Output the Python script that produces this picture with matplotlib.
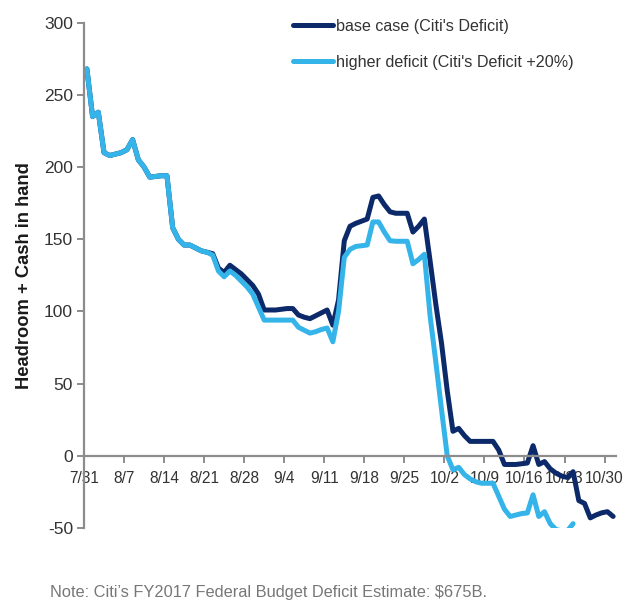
import numpy as np
import pandas as pd
import matplotlib
matplotlib.use("Agg")
import matplotlib.pyplot as plt

plt.rcParams['font.family'] = ['Liberation Sans', 'DejaVu Sans']
plt.rcParams['axes.unicode_minus'] = False

# daily values from 7/31 onward (one per calendar day)
dates = pd.date_range("2017-07-31", periods=93, freq="D")

base_case = [268, 235, 238, 210, 208, 209, 210, 212, 219, 205,
             200, 193, 193.5, 194, 194, 158, 150, 146, 146, 144,
             142, 141, 140, 130, 127, 132, 129, 126, 122, 118,
             112, 101, 101, 101, 101.5, 102, 102, 97.5, 96, 95,
             97, 99, 101, 90.5, 108, 149, 159, 161, 162.5, 164,
             179, 180, 174, 169, 168, 168, 168, 155, 159, 164,
             135, 105, 78, 45, 17, 19, 14, 10, 10, 10,
             10, 10, 4, -6, -6, -6, -5.5, -5, 7, -6,
             -4, -9, -12, -14, -15, -11, -31, -33, -43, -41,
             -39.5, -38.7, -42]

higher_deficit = [268, 235, 238, 210, 208, 209, 210, 212, 219, 205,
                  200, 193, 193.5, 194, 194, 158, 150, 146, 146, 144,
                  142, 141, 139, 128, 124, 128, 125, 121, 117, 112,
                  103, 94, 94, 94, 94, 94, 94, 89, 87, 85,
                  86, 87.5, 88.5, 79, 100, 137.5, 143, 145, 145.5, 146,
                  162, 162, 155, 149, 148.6, 148.6, 148.6, 133, 136, 139.6,
                  97, 65, 32, 0, -9.7, -8, -13, -16, -18, -19,
                  -19, -19, -28, -37, -42, -41, -40, -39.6, -27, -42,
                  -38.7, -47, -51, -52, -52, -47]

tick_dates = pd.date_range("2017-07-31", "2017-10-30", freq="7D")
tick_labels = [f"{d.month}/{d.day}" for d in tick_dates]

dark = '#0c2a6a'
light = '#34b4e9'
grey = '#8c8c8c'

fig = plt.figure(figsize=(6.4, 6.05), dpi=100)
ax = fig.add_axes([84/640, 1 - 528/605, 532/640, (528 - 22.7)/605])

# categories sit between tick marks, like the original spreadsheet chart
x_base = np.arange(len(base_case)) + 0.5
x_high = np.arange(len(higher_deficit)) + 0.5
ax.plot(x_base, base_case, color=dark, lw=3.6, solid_joinstyle='round',
        solid_capstyle='round', label="base case (Citi's Deficit)")
ax.plot(x_high, higher_deficit, color=light, lw=3.6, solid_joinstyle='round',
        solid_capstyle='round', label="higher deficit (Citi's Deficit +20%)")

ax.set_xlim(0, len(dates))
ax.set_ylim(-50, 300)
ax.set_yticks([-50, 0, 50, 100, 150, 200, 250, 300])
ax.set_xticks([(d - dates[0]).days for d in tick_dates])
ax.set_xticklabels(tick_labels)

for s in ['top', 'right']:
    ax.spines[s].set_visible(False)
ax.spines['bottom'].set_position(('data', 0))
for s in ['left', 'bottom']:
    ax.spines[s].set_color(grey)
    ax.spines[s].set_linewidth(1.6)
ax.tick_params(axis='both', colors=grey, width=1.4, length=5,
               labelcolor='#333333')
ax.tick_params(axis='x', pad=6, labelsize=11.2)
ax.tick_params(axis='y', pad=3, labelsize=12.5)

ax.set_ylabel("Headroom + Cash in hand", fontsize=13.2, fontweight='bold',
              color='#1a1a1a')
ax.yaxis.set_label_coords(-(84 - 33)/532, 0.5)

leg = ax.legend(loc='upper left', bbox_to_anchor=(293/640, 1 - 19/605),
                bbox_transform=fig.transFigure, frameon=False, fontsize=11.6,
                handlelength=2.5, handletextpad=0.2, labelspacing=1.3,
                borderpad=0, borderaxespad=0)
for t in leg.get_texts():
    t.set_color('#333333')

fig.text(50/640, 1 - 592/605, "Note: Citi\u2019s FY2017 Federal Budget Deficit Estimate: $675B.",
         fontsize=11.8, color='#777777', va='center')

fig.savefig('out.png', dpi=100)
